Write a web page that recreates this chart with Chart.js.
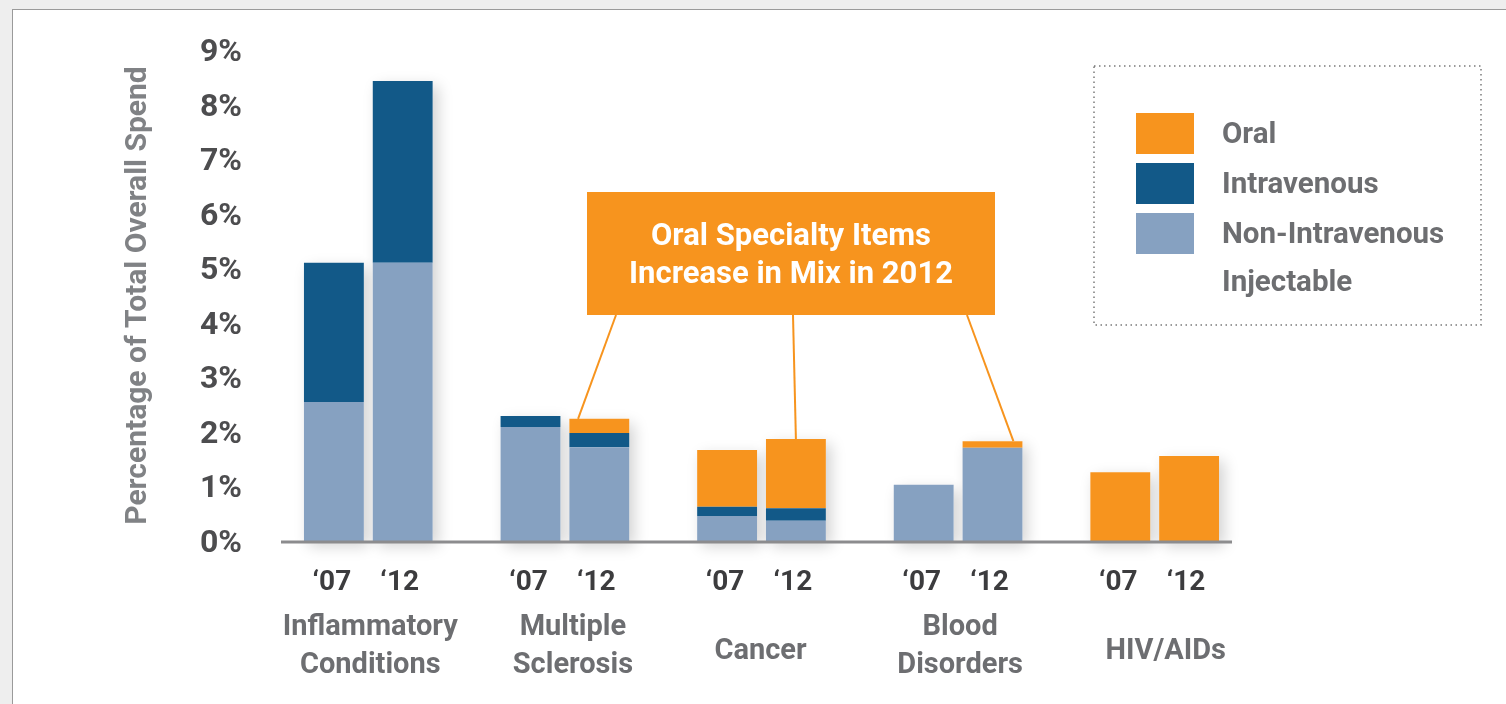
<!DOCTYPE html>
<html>
<head>
<meta charset="utf-8">
<script src="https://cdn.jsdelivr.net/npm/chart.js@4.4.0/dist/chart.umd.min.js"></script>
<style>
  html, body { margin: 0; padding: 0; background: #eeeeee; }
  #panel { position: absolute; left: 12px; top: 9px; width: 1494px; height: 695px; background: #fff;
           border-left: 1px solid #9a9a9a; border-top: 1px solid #9a9a9a; }
  #wrap { position: absolute; left: 0; top: 0; width: 1506px; height: 704px; }
</style>
</head>
<body>
<div id="panel"></div>
<div id="wrap"><canvas id="chart" width="1506" height="704"></canvas></div>
<script>
// categories and values (% of total overall spend)
const categories = [['Inflammatory', 'Conditions'], ['Multiple', 'Sclerosis'], ['Cancer'], ['Blood', 'Disorders'], ['HIV/AIDs']];
const yearLabels = ['\u201807', '\u201812'];
const yTicks = [0, 1, 2, 3, 4, 5, 6, 7, 8, 9];

const nonIV07 = [2.55, 2.09, 0.46, 1.03, 0];
const iv07    = [2.55, 0.20, 0.17, 0, 0];
const oral07  = [0, 0, 1.04, 0, 1.26];

const nonIV12 = [5.10, 1.72, 0.37, 1.71, 0];
const iv12    = [3.33, 0.26, 0.23, 0, 0];
const oral12  = [0, 0.26, 1.27, 0.12, 1.56];

const calloutText = ['Oral Specialty Items', 'Increase in Mix in 2012'];
const legendItems = [['Oral'], ['Intravenous'], ['Non-Intravenous', 'Injectable']];

const ORANGE = '#f7941e';
const DARKBLUE = '#125988';
const LIGHTBLUE = '#86a1c1';
const FONT = "'Liberation Sans Narrow', 'Roboto', sans-serif";

function ds(label, data, color, stack) {
  return { label: label, data: data, backgroundColor: color, stack: stack,
           categoryPercentage: 0.70, barPercentage: 0.87, borderWidth: 0 };
}

const datasets = [
  ds('Non-Intravenous Injectable', nonIV07, LIGHTBLUE, '07'),
  ds('Intravenous', iv07, DARKBLUE, '07'),
  ds('Oral', oral07, ORANGE, '07'),
  ds('Non-Intravenous Injectable', nonIV12, LIGHTBLUE, '12'),
  ds('Intravenous', iv12, DARKBLUE, '12'),
  ds('Oral', oral12, ORANGE, '12')
];

// top of each stacked bar, per stack, per category
function stackTops(chart) {
  const out = { '07': [], '12': [] };
  chart.data.datasets.forEach((d, di) => {
    const meta = chart.getDatasetMeta(di);
    meta.data.forEach((bar, i) => {
      const cur = out[d.stack][i];
      if (!cur) out[d.stack][i] = { x: bar.x, w: bar.width, top: bar.y, base: bar.base };
      else cur.top = Math.min(cur.top, bar.y);
    });
  });
  return out;
}

const decor = {
  id: 'decor',
  beforeDatasetsDraw(chart) {
    const ctx = chart.ctx;
    const tops = stackTops(chart);
    ctx.save();
    ctx.shadowColor = 'rgba(0,0,0,0.18)';
    ctx.shadowBlur = 14;
    ctx.shadowOffsetX = 5;
    ctx.shadowOffsetY = 5;
    ctx.fillStyle = '#fff';
    ['07', '12'].forEach(s => tops[s].forEach(b => {
      if (b.base - b.top > 1) ctx.fillRect(b.x - b.w / 2, b.top, b.w, b.base - b.top);
    }));
    ctx.restore();
  },
  afterDraw(chart) {
    const ctx = chart.ctx;
    const xs = chart.scales.x;
    const ys = chart.scales.y;
    const tops = stackTops(chart);
    const base = ys.getPixelForValue(0);
    ctx.save();

    // x axis line
    ctx.strokeStyle = '#8c8c8e';
    ctx.lineWidth = 3;
    ctx.beginPath();
    ctx.moveTo(281, base + 1);
    ctx.lineTo(1232, base + 1);
    ctx.stroke();

    // year and category labels
    ctx.textAlign = 'center';
    ctx.textBaseline = 'middle';
    const nameShift = [2, 8, -1, 2, 11];
    categories.forEach((name, i) => {
      ctx.font = 'bold 28px ' + FONT;
      ctx.fillStyle = '#3c3c3e';
      ctx.fillText(yearLabels[0], tops['07'][i].x - 2, 583);
      ctx.fillText(yearLabels[1], tops['12'][i].x - 3, 583);
      ctx.fillStyle = '#6d6e71';
      ctx.font = 'bold 29px ' + FONT;
      const cx = xs.getPixelForValue(i) + nameShift[i];
      if (name.length === 2) {
        ctx.fillText(name[0], cx, 628);
        ctx.fillText(name[1], cx, 666);
      } else {
        ctx.fillText(name[0], cx, 652);
      }
    });

    // callout box and leader lines
    const bx = 587, by = 192, bw = 408, bh = 123;
    ctx.strokeStyle = ORANGE;
    ctx.lineWidth = 2;
    const targets = [[1, 616], [2, 793], [3, 967]];
    targets.forEach(([i, sx]) => {
      const b = tops['12'][i];
      ctx.beginPath();
      ctx.moveTo(sx, by + bh);
      ctx.lineTo(b.x + (sx - 793) * 0.12, b.top);
      ctx.stroke();
    });
    ctx.fillStyle = ORANGE;
    ctx.fillRect(bx, by, bw, bh);
    ctx.fillStyle = '#ffffff';
    ctx.font = 'bold 31px ' + FONT;
    ctx.fillText(calloutText[0], bx + bw / 2, 237);
    ctx.fillText(calloutText[1], bx + bw / 2, 275);

    // legend
    ctx.strokeStyle = '#7a7a7a';
    ctx.lineWidth = 1.5;
    ctx.setLineDash([1.5, 3.5]);
    ctx.strokeRect(1094, 66, 387, 259);
    ctx.setLineDash([]);
    const swatch = [ORANGE, DARKBLUE, LIGHTBLUE];
    ctx.textAlign = 'left';
    ctx.font = 'bold 29.5px ' + FONT;
    legendItems.forEach((lines, k) => {
      const y0 = 113 + k * 50;
      ctx.fillStyle = swatch[k];
      ctx.fillRect(1136, y0, 58, 41);
      ctx.fillStyle = '#6d6e71';
      lines.forEach((t, j) => ctx.fillText(t, 1222, y0 + 23 + j * 48));
    });
    ctx.restore();
  }
};

new Chart(document.getElementById('chart'), {
  type: 'bar',
  data: { labels: categories.map(c => c.join(' ')), datasets: datasets },
  options: {
    responsive: false,
    animation: false,
    layout: { padding: { left: 120, top: 50, right: 253, bottom: 0 } },
    plugins: { legend: { display: false }, tooltip: { enabled: false } },
    scales: {
      x: {
        stacked: true,
        grid: { display: false },
        border: { display: false },
        ticks: { display: false },
        afterFit(scale) { scale.height = 163; }
      },
      y: {
        stacked: true,
        min: 0,
        max: 9,
        grid: { display: false },
        border: { display: false },
        afterBuildTicks(scale) { scale.ticks = yTicks.map(v => ({ value: v })); },
        ticks: {
          padding: 20,
          labelOffset: 3,
          color: '#4d4d4f',
          font: { family: FONT, size: 32, weight: 'bold' },
          callback: v => v + '%'
        },
        title: {
          display: true,
          text: 'Percentage of Total Overall Spend',
          color: '#808285',
          padding: { top: 0, bottom: 0 },
          font: { family: FONT, size: 30, weight: 'bold' }
        },
        afterFit(scale) { scale.width = 150; }
      }
    }
  },
  plugins: [decor]
});
</script>
</body>
</html>
